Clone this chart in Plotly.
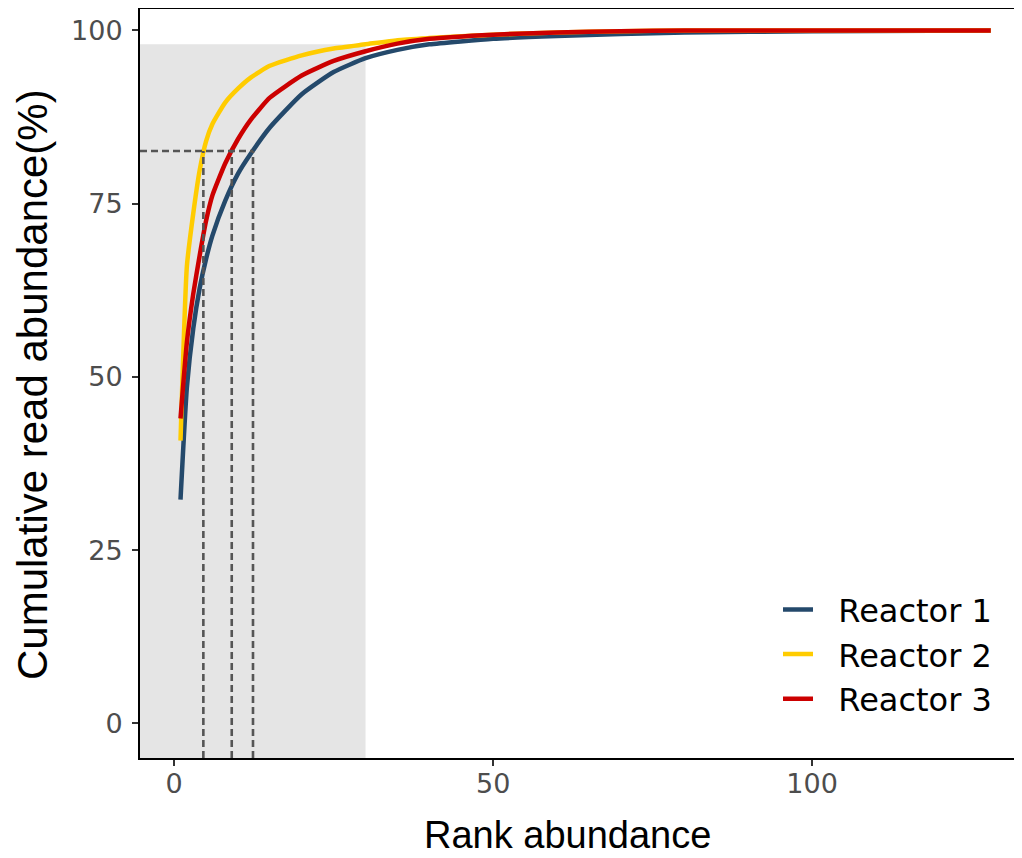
import plotly.graph_objects as go

# ---- data ----
ranks = [1, 2, 3, 4, 5, 6, 8, 10, 12, 15, 20, 25, 30, 35, 40, 50, 60, 70, 80, 100, 128]
reactor1 = [32.3, 48.5, 57.0, 62.8, 67.0, 70.4, 75.4, 79.3, 82.2, 86.0, 90.8, 94.0, 96.0, 97.2, 98.0, 98.8, 99.2, 99.5, 99.7, 99.9, 100.0]
reactor2 = [40.8, 66.0, 73.6, 79.8, 84.0, 86.5, 89.6, 91.6, 93.2, 94.9, 96.4, 97.4, 98.0, 98.6, 98.9, 99.4, 99.7, 99.9, 100.0, 100.0, 100.0]
reactor3 = [44.0, 55.0, 62.0, 67.5, 72.5, 76.2, 80.8, 84.3, 87.1, 90.3, 93.5, 95.6, 97.0, 98.1, 98.8, 99.4, 99.7, 99.9, 100.0, 100.0, 100.0]
series_names = ["Reactor 1", "Reactor 2", "Reactor 3"]
series_colors = ["#24496B", "#FFCC00", "#CC0000"]

# threshold markers (rank at which each series reaches the cutoff)
cutoff = 82.6
cutoff_ranks = [4.58, 9.03, 12.36]
shade_rank = 30
shade_top = 98

x_ticks = [0, 50, 100]
y_ticks = [0, 25, 50, 75, 100]

x_range = [-5.35, 132.9]
y_range = [-5.0, 103.1]

fig = go.Figure()

for name, vals, col in zip(series_names, [reactor1, reactor2, reactor3], series_colors):
    fig.add_trace(go.Scatter(x=ranks, y=vals, mode="lines", name="\u00a0\u00a0" + name,
                             line=dict(color=col, width=4.5, shape="spline", smoothing=0.5)))

# dashed guide lines
dash_style = dict(color="#555555", width=2.6, dash="7px,4px")
fig.add_trace(go.Scatter(x=[x_range[0], max(cutoff_ranks)], y=[cutoff, cutoff], mode="lines",
                         showlegend=False, hoverinfo="skip", line=dash_style))
for r in cutoff_ranks:
    fig.add_trace(go.Scatter(x=[r, r], y=[y_range[0], cutoff], mode="lines",
                             showlegend=False, hoverinfo="skip", line=dash_style))

# shaded region
fig.add_shape(type="rect", xref="x", yref="y", x0=x_range[0], x1=shade_rank,
              y0=y_range[0], y1=shade_top, fillcolor="#E5E5E5", line_width=0, layer="below")

# page has an 8px body margin: figure is laid out to land on the reference pixels
fig.update_layout(
    width=1014, height=850,
    margin=dict(l=132, r=0, t=1, b=100),
    plot_bgcolor="white", paper_bgcolor="white",
    showlegend=True,
    legend=dict(x=(770 - 132) / 882, y=0.2347, xanchor="left", yanchor="top",
                font=dict(family="DejaVu Sans", size=32, color="black"),
                bgcolor="rgba(0,0,0,0)"),
    annotations=[
        dict(text="Rank abundance", xref="paper", yref="paper", x=(559 - 132) / 882, y=-0.1335,
             xanchor="center", yanchor="bottom", showarrow=False,
             font=dict(family="Liberation Sans", size=38, color="black")),
        dict(text="Cumulative read abundance(%)", xref="paper", yref="paper",
             x=(24 - 132) / 882, y=(750 - 377) / 749, textangle=-90,
             xanchor="center", yanchor="middle", showarrow=False,
             font=dict(family="Liberation Sans", size=42, color="black")),
    ],
)

fig.update_xaxes(range=x_range, tickvals=x_ticks, ticks="outside", ticklen=6, tickwidth=2,
                 tickcolor="#333333", showline=True, linecolor="black", linewidth=2,
                 mirror=True, showgrid=False, zeroline=False, ticklabelstandoff=-5,
                 tickfont=dict(family="DejaVu Sans", size=27, color="#4D4D4D"))
fig.update_yaxes(range=y_range, tickvals=y_ticks, ticks="outside", ticklen=6, tickwidth=2,
                 tickcolor="#333333", showline=True, linecolor="black", linewidth=2,
                 showgrid=False, zeroline=False, ticklabelstandoff=4,
                 tickfont=dict(family="DejaVu Sans", size=27, color="#4D4D4D"))

fig.write_html("out.html")
